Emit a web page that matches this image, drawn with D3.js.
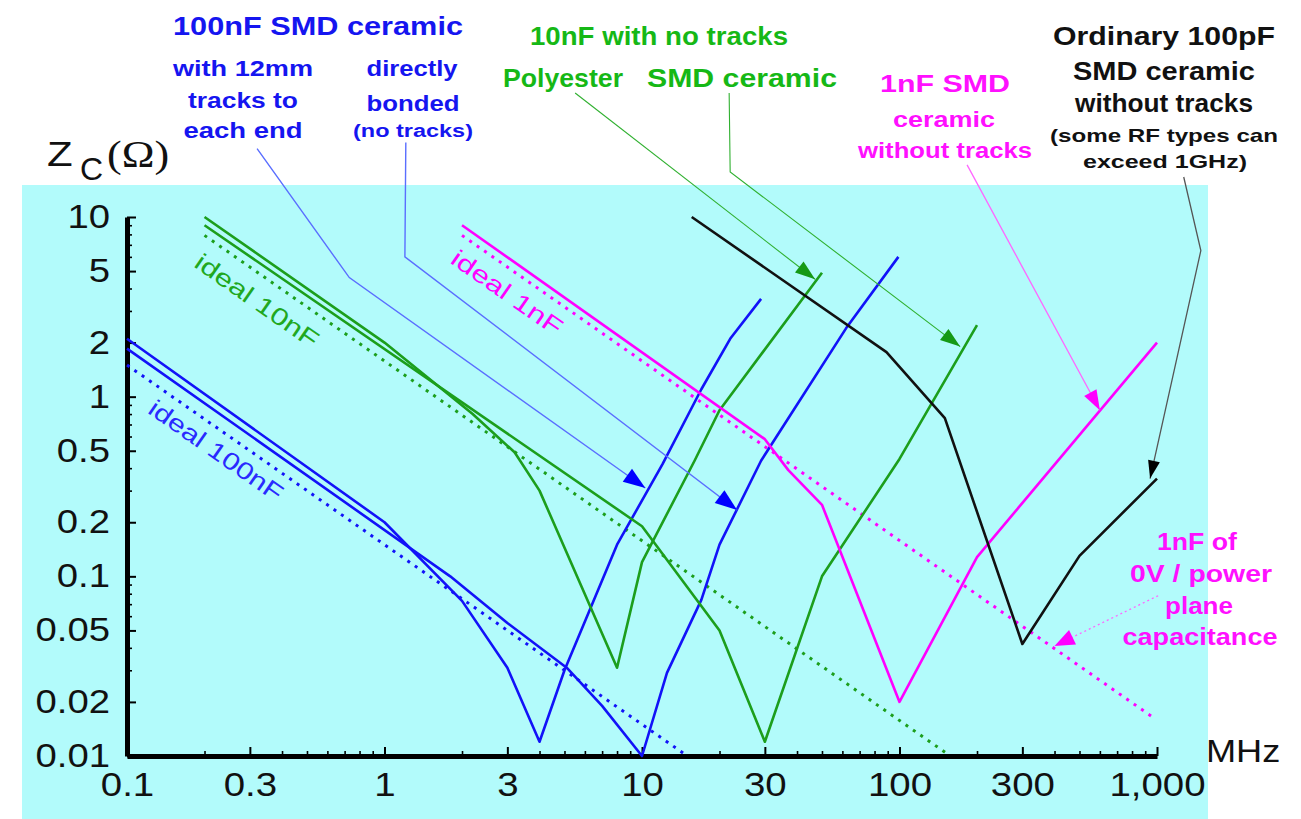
<!DOCTYPE html>
<html>
<head>
<meta charset="utf-8">
<script src="https://cdn.jsdelivr.net/npm/d3@7"></script>
<style>
  body { margin: 0; background: #ffffff; }
  svg text { font-family: 'Liberation Sans', Arial, sans-serif; }
</style>
</head>
<body>
<svg id="ZcChart" width="1301" height="819"></svg>
<script>
// Impedance vs frequency of decoupling capacitors, pairs are [MHz, ohms]
var xMajor = [0.1, 0.3, 1, 3, 10, 30, 100, 300, 1000];
var xLabels = ['0.1', '0.3', '1', '3', '10', '30', '100', '300', '1,000'];
var yMajor = [10, 5, 2, 1, 0.5, 0.2, 0.1, 0.05, 0.02, 0.01];
var yLabels = ['10', '5', '2', '1', '0.5', '0.2', '0.1', '0.05', '0.02', '0.01'];

var zTracks100n = [[0.1, 2.1], [1, 0.2], [2, 0.073], [3, 0.031], [4, 0.012], [5, 0.03], [8, 0.15], [12, 0.42], [17, 1.1], [22, 2.1], [29, 3.5]];
var zDirect100n = [[0.1, 1.85], [1.8, 0.1], [3, 0.055], [5.1, 0.031], [7, 0.019], [10, 0.01], [12.5, 0.029], [17, 0.074], [20, 0.15], [29, 0.44], [62, 2.4], [99, 6]];
var zIdeal100n = [[0.1, 1.5], [15, 0.01]];
var zPolyester10n = [[0.2, 10], [1, 2], [2.2, 0.8], [3.2, 0.49], [4, 0.3], [8, 0.031], [10, 0.12], [16, 0.44], [20, 0.84], [50, 4.9]];
var zCeramic10n = [[0.2, 9], [10, 0.19], [20, 0.05], [30, 0.012], [50, 0.1], [100, 0.45], [200, 2.5]];
var zIdeal10n = [[0.2, 7.9], [153, 0.0103]];
var zCeramic1n = [[2, 9], [30, 0.58], [37, 0.39], [50, 0.25], [100, 0.02], [200, 0.128], [1000, 2]];
var zIdeal1n = [[2, 7.9], [960, 0.0165]];
var zCeramic100p = [[15.6, 10], [89, 1.77], [150, 0.76], [300, 0.042], [500, 0.13], [1000, 0.35]];

// callout leader lines, anchored in data space, arrow tip is the last point
var leaderTracks = [[0.32, 24], [0.73, 4.6], [10.3, 0.31]];
var leaderDirect = [[1.21, 26], [1.2, 6], [23.4, 0.234]];
var leaderPolyester = [[5.5, 49], [47, 4.5]];
var leaderCeramic10n = [[21.8, 49], [22, 17.8], [172, 1.9]];
var leaderCeramic1n = [[183, 19.5], [600, 0.84]];
var leaderCeramic100p = [[1270, 16.7], [1480, 6.5], [940, 0.35]];
var leaderPlane = [[1010, 0.078], [400, 0.041]];

var BLUE = '#1212f8', GREEN = '#1c9e1c', PINK = '#ff00ff', BLACK = '#111111';

function stretch(sel, k) {
    sel.each(function() {
        var w = this.getComputedTextLength();
        d3.select(this).attr('textLength', w * k).attr('lengthAdjust', 'spacingAndGlyphs');
    });
}

function build_chart() {
    var svg = d3.select('#ZcChart');

    var x = d3.scaleLog().domain([0.1, 1000]).range([127, 1157]);
    var y = d3.scaleLog().domain([0.01, 10]).range([756, 217]);

    // cyan plot panel
    svg.append('rect')
        .attr('x', 22).attr('y', 185)
        .attr('width', 1186).attr('height', 634)
        .style('fill', '#b2fbfb');

    draw_axes(svg, x, y);

    // ideal (dotted) lines first, real curves on top
    add_line(svg, x, y, zIdeal100n, BLUE, true);
    add_line(svg, x, y, zIdeal10n, GREEN, true);
    add_line(svg, x, y, zIdeal1n, PINK, true);

    add_line(svg, x, y, zTracks100n, BLUE, false);
    add_line(svg, x, y, zDirect100n, BLUE, false);
    add_line(svg, x, y, zPolyester10n, GREEN, false);
    add_line(svg, x, y, zCeramic10n, GREEN, false);
    add_line(svg, x, y, zCeramic1n, PINK, false);
    add_line(svg, x, y, zCeramic100p, BLACK, false);

    add_ideal_label(svg, x, y, zIdeal100n, 'ideal 100nF', [0.119, 0.82], '#2a2aff', 158);
    add_ideal_label(svg, x, y, zIdeal10n, 'ideal 10nF', [0.18, 5.33], '#20a820', 145);
    add_ideal_label(svg, x, y, zIdeal1n, 'ideal 1nF', [1.78, 5.6], PINK, 130);

    add_leader(svg, x, y, leaderTracks, '#5a6eff', '#0000ff', 1.4, 22, 8, false);
    add_leader(svg, x, y, leaderDirect, '#5a6eff', '#0000ff', 1.4, 22, 8, false);
    add_leader(svg, x, y, leaderPolyester, '#30b030', '#159915', 1.1, 20, 7, false);
    add_leader(svg, x, y, leaderCeramic10n, '#30b030', '#159915', 1.1, 20, 7, false);
    add_leader(svg, x, y, leaderCeramic1n, '#ff66ff', PINK, 1.3, 20, 7, false);
    add_leader(svg, x, y, leaderCeramic100p, '#555555', '#000000', 1.3, 18, 6, false);
    add_leader(svg, x, y, leaderPlane, '#ff66ff', PINK, 1.3, 20, 8, true);

    add_notes(svg);
}

function draw_axes(svg, x, y) {
    var yMinor = y.ticks().filter(function(d) { return yMajor.indexOf(+d.toPrecision(3)) < 0; });
    var xMinor = x.ticks().filter(function(d) { return xMajor.indexOf(+d.toPrecision(3)) < 0; });

    svg.append('g')
        .attr('transform', 'translate(127,0)')
        .call(d3.axisLeft(y).tickValues(yMinor).tickSize(-5).tickFormat(''))
        .call(function(g) { g.select('.domain').remove(); })
        .selectAll('line').style('stroke-width', 1.6);

    svg.append('g')
        .attr('transform', 'translate(0,756)')
        .call(d3.axisBottom(x).tickValues(xMinor).tickSize(-5).tickFormat(''))
        .call(function(g) { g.select('.domain').remove(); })
        .selectAll('line').style('stroke-width', 1.6);

    var yAxis = svg.append('g')
        .attr('transform', 'translate(127,0)')
        .call(d3.axisLeft(y)
            .tickValues(yMajor)
            .tickSize(-9)
            .tickSizeOuter(0)
            .tickPadding(17)
            .tickFormat(function(d, i) { return yLabels[i]; }));
    yAxis.select('.domain').style('stroke-width', 5);
    yAxis.selectAll('.tick line').style('stroke-width', 2);
    yAxis.selectAll('text')
        .attr('font-size', null)
        .style('font-size', '33px')
        .style('fill', '#111');
    stretch(yAxis.selectAll('text'), 1.16);

    var xAxis = svg.append('g')
        .attr('transform', 'translate(0,756)')
        .call(d3.axisBottom(x)
            .tickValues(xMajor)
            .tickSize(-9)
            .tickSizeOuter(0)
            .tickPadding(16)
            .tickFormat(function(d, i) { return xLabels[i]; }));
    xAxis.select('.domain').style('stroke-width', 5);
    xAxis.selectAll('.tick line').style('stroke-width', 2);
    xAxis.selectAll('text')
        .style('font-size', '34px')
        .style('fill', '#111');
    stretch(xAxis.selectAll('text'), 1.13);

    svg.selectAll('.domain, .tick line').style('stroke', '#000');
    svg.selectAll('g').attr('font-family', null).attr('font-size', null);

    // axis titles
    var mhz = svg.append('text')
        .attr('x', 1206).attr('y', 762)
        .style('font-size', '32px')
        .style('fill', '#111')
        .text('MHz');
    stretch(mhz, 1.13);

    var z = svg.append('text')
        .attr('x', 47).attr('y', 166)
        .style('font-size', '35px')
        .style('fill', '#111')
        .text('Z');
    stretch(z, 1.2);
    svg.append('text')
        .attr('x', 80).attr('y', 180)
        .style('font-size', '32px')
        .style('fill', '#111')
        .text('C');
    var ohm = svg.append('text')
        .attr('x', 107).attr('y', 167)
        .style('font-family', "'Liberation Serif', 'Times New Roman', serif")
        .style('font-size', '38px')
        .style('fill', '#111')
        .text('(Ω)');
    stretch(ohm, 1.16);
}

function add_line(svg, x, y, data, color, dotted) {
    var valueline = d3.line()
        .x(function(d) { return x(d[0]); })
        .y(function(d) { return y(d[1]); });

    var path = svg.append('path')
        .datum(data)
        .style('fill', 'none')
        .style('stroke', color)
        .style('stroke-width', dotted ? 3 : 2.6)
        .style('stroke-linejoin', 'round')
        .attr('d', valueline);
    if (dotted) path.style('stroke-dasharray', '3 6');
}

function add_ideal_label(svg, x, y, data, label, at, color, len) {
    var p0 = data[0], p1 = data[data.length - 1];
    var ang = Math.atan2(y(p1[1]) - y(p0[1]), x(p1[0]) - x(p0[0])) * 180 / Math.PI;
    svg.append('text')
        .attr('transform', 'translate(' + x(at[0]) + ',' + y(at[1]) + ') rotate(' + ang + ')')
        .style('font-size', '24px')
        .style('fill', color)
        .attr('textLength', len)
        .attr('lengthAdjust', 'spacingAndGlyphs')
        .text(label);
}

function add_leader(svg, x, y, pts, lineColor, headColor, width, hl, hw, dotted) {
    var line = d3.line()
        .x(function(d) { return x(d[0]); })
        .y(function(d) { return y(d[1]); });

    var leader = svg.append('path')
        .datum(pts)
        .style('fill', 'none')
        .style('stroke', lineColor)
        .style('stroke-width', width)
        .attr('d', line);
    if (dotted) leader.style('stroke-dasharray', '2 3');

    var a = pts[pts.length - 2], b = pts[pts.length - 1];
    var tx = x(b[0]), ty = y(b[1]);
    var ang = Math.atan2(ty - y(a[1]), tx - x(a[0]));
    var ux = Math.cos(ang), uy = Math.sin(ang);
    var bx = tx - ux * hl, by = ty - uy * hl;
    svg.append('polygon')
        .attr('points', [
            [tx, ty],
            [bx - uy * hw, by + ux * hw],
            [bx + uy * hw, by - ux * hw]
        ].join(' '))
        .style('fill', headColor);
}

function add_notes(svg) {
    var notes = [
        ['100nF SMD ceramic', 318, 35, 25, 290, '#1515f0'],
        ['with 12mm', 243, 76, 22, 140, '#1515f0'],
        ['tracks to', 243, 108, 22, 110, '#1515f0'],
        ['each end', 243, 138, 22, 119, '#1515f0'],
        ['directly', 412, 76, 22, 91, '#1515f0'],
        ['bonded', 413, 111, 22, 93, '#1515f0'],
        ['(no tracks)', 413, 137, 18, 120, '#1515f0'],
        ['10nF with no tracks', 659, 45, 25, 258, '#16b816'],
        ['Polyester', 563, 87, 25, 120, '#16b816'],
        ['SMD ceramic', 742, 87, 25, 190, '#16b816'],
        ['1nF SMD', 945, 92, 24, 130, '#ff10ff'],
        ['ceramic', 944, 127, 22, 102, '#ff10ff'],
        ['without tracks', 945, 158, 22, 174, '#ff10ff'],
        ['Ordinary 100pF', 1164, 45, 25, 222, '#111111'],
        ['SMD ceramic', 1164, 80, 25, 182, '#111111'],
        ['without tracks', 1164, 112, 25, 178, '#111111'],
        ['(some RF types can', 1164, 142, 19, 228, '#111111'],
        ['exceed 1GHz)', 1165, 168, 19, 164, '#111111'],
        ['1nF of', 1197, 550, 24, 80, '#ff10ff'],
        ['0V / power', 1201, 582, 24, 142, '#ff10ff'],
        ['plane', 1199, 614, 24, 68, '#ff10ff'],
        ['capacitance', 1200, 645, 24, 155, '#ff10ff']
    ];

    svg.append('g').selectAll('text')
        .data(notes)
        .enter().append('text')
        .attr('x', function(d) { return d[1]; })
        .attr('y', function(d) { return d[2]; })
        .attr('text-anchor', 'middle')
        .attr('textLength', function(d) { return d[4]; })
        .attr('lengthAdjust', 'spacingAndGlyphs')
        .style('font-size', function(d) { return d[3] + 'px'; })
        .style('font-weight', 'bold')
        .style('fill', function(d) { return d[5]; })
        .text(function(d) { return d[0]; });
}

build_chart();
</script>
</body>
</html>
